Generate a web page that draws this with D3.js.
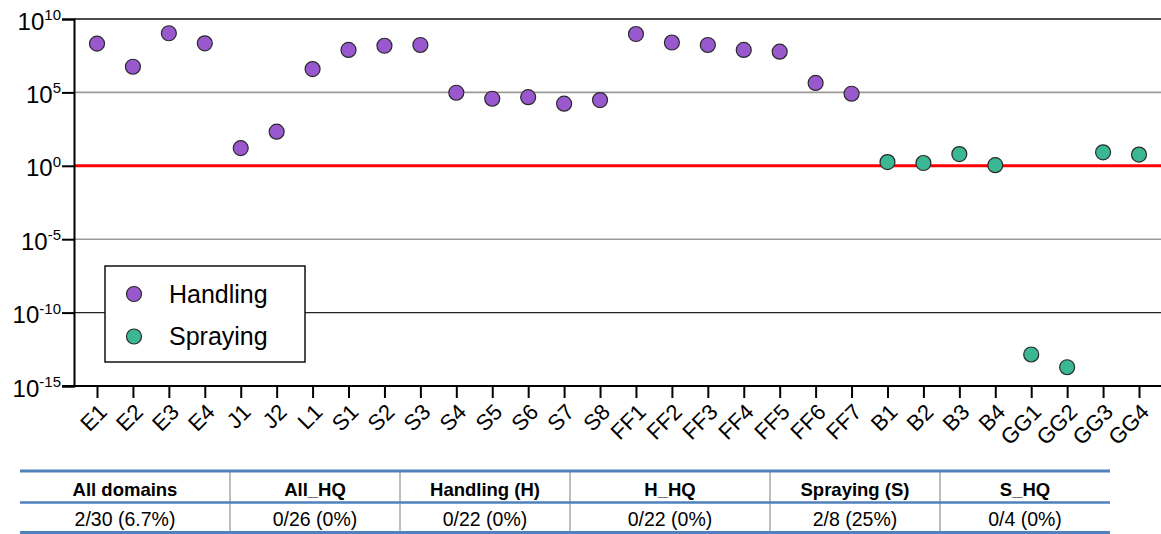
<!DOCTYPE html>
<html>
<head>
<meta charset="utf-8">
<script src="https://cdn.jsdelivr.net/npm/d3@7"></script>
<style>
  html, body { margin: 0; padding: 0; background: #fff; }
  svg { display: block; }
</style>
</head>
<body>
<svg id="chart" width="1161" height="534"></svg>
<script>
const handlingCategories = ["E1","E2","E3","E4","J1","J2","L1","S1","S2","S3","S4","S5","S6","S7","S8","FF1","FF2","FF3","FF4","FF5","FF6","FF7"];
const handlingValues = [2.1e8,5.6e6,1.07e9,2.2e8,16,210,3.9e6,7.8e7,1.5e8,1.7e8,9.5e4,3.7e4,4.7e4,1.7e4,3.0e4,9.5e8,2.5e8,1.7e8,7.8e7,5.9e7,4.4e5,8.1e4];
const sprayingCategories = ["B1","B2","B3","B4","GG1","GG2","GG3","GG4"];
const sprayingValues = [1.8,1.55,6.3,1.1,1.4e-13,1.9e-14,8.3,5.8];
const yTickValues = [1e-15,1e-10,1e-5,1,1e5,1e10];
const yTickExponents = ["-15","-10","-5","0","5","10"];
const thresholdValue = 1;
const seriesNames = ["Handling","Spraying"];
const seriesColors = ["#9a58cf","#3bb793"];
const tableHeaders = ["All domains","All_HQ","Handling (H)","H_HQ","Spraying (S)","S_HQ"];
const tableValues = ["2/30 (6.7%)","0/26 (0%)","0/22 (0%)","0/22 (0%)","2/8 (25%)","0/4 (0%)"];
const tableColumnEdges = [20,230,400,570,770,940,1110];

(function () {
const svg = d3.select("#chart");
const FONT = "'Liberation Sans', Arial, Helvetica, sans-serif";
const pLeft = 74, pRight = 1161, pTop = 19, pBottom = 386;

const categories = handlingCategories.concat(sprayingCategories);
const x = d3.scalePoint().domain(categories).range([97, 1139]);
const y = d3.scaleLog().domain([1e-15, 1e10]).range([pBottom, pTop]);

// gridlines
const gridStyle = new Map([
  [1e10, {c:"#111", w:1.6}],
  [1e5, {c:"#9a9a9a", w:1.6}],
  [1e-5, {c:"#9a9a9a", w:1.6}],
  [1e-10, {c:"#222", w:1.2}]
]);
yTickValues.forEach(v => {
  const s = gridStyle.get(v);
  if (!s) return;
  svg.append("line")
    .attr("x1", pLeft).attr("x2", pRight)
    .attr("y1", y(v)).attr("y2", y(v))
    .attr("stroke", s.c).attr("stroke-width", s.w);
});

// threshold line
svg.append("line")
  .attr("x1", pLeft).attr("x2", pRight)
  .attr("y1", y(thresholdValue)).attr("y2", y(thresholdValue))
  .attr("stroke", "#ff0000").attr("stroke-width", 3);

// y axis
const yAxis = d3.axisLeft(y).tickValues(yTickValues).tickSize(12).tickFormat("");
const yg = svg.append("g").attr("transform", `translate(${pLeft},0)`).call(yAxis);
yg.select(".domain").attr("stroke", "#000").attr("stroke-width", 2);
yg.selectAll(".tick line").attr("stroke", "#000").attr("stroke-width", 2);
yTickValues.forEach((v, i) => {
  const t = svg.append("text")
    .attr("x", 61).attr("y", y(v) + 10.5)
    .attr("text-anchor", "end")
    .attr("font-family", FONT).attr("fill", "#000");
  t.append("tspan").attr("font-size", 24).text("10");
  t.append("tspan").attr("font-size", 15).attr("dy", -9.5).text(yTickExponents[i]);
});

// x axis
const xAxis = d3.axisBottom(x).tickSize(12).tickSizeOuter(0).tickFormat("");
const xg = svg.append("g").attr("transform", `translate(0,${pBottom})`).call(xAxis);
xg.select(".domain").attr("stroke", "#000").attr("stroke-width", 2)
  .attr("d", `M62,0H${pRight}`);
xg.selectAll(".tick line").attr("stroke", "#000").attr("stroke-width", 2);
categories.forEach(c => {
  svg.append("text")
    .attr("transform", `translate(${x(c) + 6},${pBottom + 22}) rotate(-45)`)
    .attr("text-anchor", "end")
    .attr("dy", "0.35em")
    .attr("font-family", FONT).attr("font-size", 22).attr("fill", "#000")
    .text(c);
});

// points
function drawSeries(cats, vals, color) {
  svg.append("g").selectAll("circle")
    .data(cats.map((c, i) => ({c, v: vals[i]})))
    .join("circle")
    .attr("cx", d => x(d.c)).attr("cy", d => y(d.v))
    .attr("r", 7.5)
    .attr("fill", color).attr("stroke", "#2a2a2a").attr("stroke-width", 1.2);
}
drawSeries(handlingCategories, handlingValues, seriesColors[0]);
drawSeries(sprayingCategories, sprayingValues, seriesColors[1]);

// legend
const lg = svg.append("g");
lg.append("rect").attr("x", 105).attr("y", 266).attr("width", 200).attr("height", 96)
  .attr("fill", "#fff").attr("stroke", "#111").attr("stroke-width", 1.5);
seriesNames.forEach((n, i) => {
  const cy = 294 + i * 42.5;
  lg.append("circle").attr("cx", 134).attr("cy", cy).attr("r", 7.5)
    .attr("fill", seriesColors[i]).attr("stroke", "#2a2a2a").attr("stroke-width", 1.2);
  lg.append("text").attr("x", 169).attr("y", cy + 8.5)
    .attr("font-family", FONT).attr("font-size", 25).attr("fill", "#000").text(n);
});

// table
const tg = svg.append("g");
const tTop = 471, tMid = 502.5, tBot = 532.5;
for (let i = 1; i < tableColumnEdges.length - 1; i++) {
  tg.append("line").attr("x1", tableColumnEdges[i]).attr("x2", tableColumnEdges[i])
    .attr("y1", tTop).attr("y2", tBot).attr("stroke", "#bdbdbd").attr("stroke-width", 2);
}
[[tTop,3],[tMid,2.5],[tBot,3]].forEach(([yy, w]) => {
  tg.append("line").attr("x1", tableColumnEdges[0]).attr("x2", tableColumnEdges[tableColumnEdges.length-1])
    .attr("y1", yy).attr("y2", yy).attr("stroke", "#4f81bd").attr("stroke-width", w);
});
tableHeaders.forEach((h, i) => {
  const cx = (tableColumnEdges[i] + tableColumnEdges[i+1]) / 2;
  tg.append("text").attr("x", cx).attr("y", 495.5).attr("text-anchor", "middle")
    .attr("font-family", FONT).attr("font-size", 18.5).attr("font-weight", "bold").attr("fill", "#000").text(h);
  tg.append("text").attr("x", cx).attr("y", 525.5).attr("text-anchor", "middle")
    .attr("font-family", FONT).attr("font-size", 19.5).attr("fill", "#000").text(tableValues[i]);
});
})();
</script>
</body>
</html>
